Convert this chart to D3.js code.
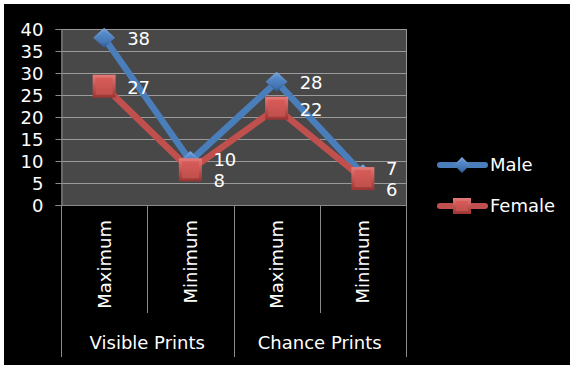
<!DOCTYPE html>
<html>
<head>
<meta charset="utf-8">
<script src="https://cdn.jsdelivr.net/npm/d3@7"></script>
<style>
html,body{margin:0;padding:0;background:#fff;}
svg{display:block;}
text{font-family:"DejaVu Sans",sans-serif;fill:#fff;}
</style>
</head>
<body>
<script>
const categories = ["Maximum", "Minimum", "Maximum", "Minimum"];
const groups = ["Visible Prints", "Chance Prints"];
const groupSize = 2;
const maleValues = [38, 10, 28, 7];
const femaleValues = [27, 8, 22, 6];
const seriesNames = ["Male", "Female"];
const yTickValues = [0, 5, 10, 15, 20, 25, 30, 35, 40];

const W = 573, H = 369;
const svg = d3.select("body").append("svg").attr("width", W).attr("height", H);
const defs = svg.append("defs");

function grad(id, c1, c2) {
  const g = defs.append("linearGradient").attr("id", id).attr("x1", 0).attr("y1", 0).attr("x2", 0).attr("y2", 1);
  g.append("stop").attr("offset", "0%").attr("stop-color", c1);
  g.append("stop").attr("offset", "100%").attr("stop-color", c2);
}
grad("blueOuter", "#7aa7e0", "#2d5a94");
grad("blueInner", "#5b8fd0", "#3f71b0");
grad("redOuter", "#e57a77", "#9a3331");
grad("redInner", "#d85b58", "#c0504d");

// chart background
svg.append("rect").attr("x", 4).attr("y", 4).attr("width", 566).attr("height", 361).attr("fill", "#000");

const plot = {left: 61, right: 406, top: 29, bottom: 205};
const x = d3.scaleBand().domain(d3.range(categories.length)).range([plot.left, plot.right]).padding(0);
const y = d3.scaleLinear().domain([0, 40]).range([plot.bottom, plot.top]);
const cx = i => x(i) + x.bandwidth() / 2;

// plot area
svg.append("rect").attr("x", plot.left).attr("y", plot.top)
  .attr("width", plot.right - plot.left).attr("height", plot.bottom - plot.top)
  .attr("fill", "#484848");

// gridlines
svg.append("g").selectAll("line").data(yTickValues.filter(v => v > 0)).join("line")
  .attr("x1", plot.left).attr("x2", plot.right)
  .attr("y1", d => y(d) + 0.5).attr("y2", d => y(d) + 0.5)
  .attr("stroke", "#9a9a9a").attr("stroke-width", 1);
svg.append("line").attr("x1", plot.right + 0.5).attr("x2", plot.right + 0.5)
  .attr("y1", plot.top).attr("y2", plot.bottom).attr("stroke", "#9a9a9a");

// y axis
const yAxis = d3.axisLeft(y).tickValues(yTickValues).tickSize(6).tickPadding(12);
const gy = svg.append("g").attr("transform", `translate(${plot.left + 0.5},0)`).call(yAxis);
gy.select(".domain").attr("stroke", "#8a8a8a");
gy.selectAll(".tick line").attr("stroke", "#8a8a8a");
gy.selectAll(".tick text").attr("fill", "#fff").style("font-family", '"DejaVu Sans",sans-serif')
  .style("font-size", "18px").attr("dy", "0.36em");

// x axis line
svg.append("line").attr("x1", plot.left).attr("x2", plot.right)
  .attr("y1", plot.bottom + 0.5).attr("y2", plot.bottom + 0.5).attr("stroke", "#8a8a8a");

// category separators
const sepIdx = d3.range(categories.length + 1);
svg.append("g").selectAll("line").data(sepIdx).join("line")
  .attr("x1", i => Math.round(i < categories.length ? x(i) : plot.right) + 0.5)
  .attr("x2", i => Math.round(i < categories.length ? x(i) : plot.right) + 0.5)
  .attr("y1", plot.bottom)
  .attr("y2", i => i % groupSize === 0 ? 357 : 313)
  .attr("stroke", "#8a8a8a");

// category labels (rotated)
svg.append("g").selectAll("text").data(categories).join("text")
  .attr("transform", (d, i) => `translate(${cx(i)},220) rotate(-90)`)
  .attr("text-anchor", "end").attr("dy", "0.36em")
  .style("font-size", "18px").text(d => d);

// group labels
svg.append("g").selectAll("text").data(groups).join("text")
  .attr("x", (d, gi) => (x(gi * groupSize) + (gi * groupSize + groupSize < categories.length ? x(gi * groupSize + groupSize) : plot.right)) / 2)
  .attr("y", 349).attr("text-anchor", "middle")
  .style("font-size", "18px").text(d => d);

// markers
function diamond(g, w, h) {
  g.append("path").attr("d", `M0,${-h/2}L${w/2},0L0,${h/2}L${-w/2},0Z`).attr("fill", "url(#blueOuter)");
  g.append("path").attr("d", `M0,${-h/2+3}L${w/2-3},0L0,${h/2-3}L${-w/2+3},0Z`).attr("fill", "url(#blueInner)");
}
function square(g, w, h) {
  g.append("rect").attr("x", -w/2).attr("y", -h/2).attr("width", w).attr("height", h).attr("fill", "url(#redOuter)");
  g.append("rect").attr("x", -w/2+3).attr("y", -h/2+3).attr("width", w-6).attr("height", h-6).attr("fill", "url(#redInner)");
}

const line = d3.line().x((d, i) => cx(i)).y(d => y(d));
const series = [
  {name: seriesNames[0], values: maleValues, color: "#4a7ebb", marker: diamond, mw: 22, mh: 20, lw: 16, lh: 16},
  {name: seriesNames[1], values: femaleValues, color: "#c0504d", marker: square, mw: 23, mh: 23, lw: 18, lh: 16}
];

series.forEach(s => {
  svg.append("path").datum(s.values).attr("d", line)
    .attr("fill", "none").attr("stroke", s.color).attr("stroke-width", 6.5)
    .attr("stroke-linejoin", "round");
  s.values.forEach((v, i) => {
    const g = svg.append("g").attr("transform", `translate(${cx(i)},${y(v)})`);
    s.marker(g, s.mw, s.mh);
  });
});

// data labels with simple overlap avoidance
const labelG = svg.append("g");
categories.forEach((c, i) => {
  const ym = y(maleValues[i]), yf = y(femaleValues[i]);
  let lm = ym, lf = yf;
  if (Math.abs(yf - ym) < 21) {
    lf = yf + 10;
    lm = Math.min(ym, lf - 21);
  }
  [[maleValues[i], lm], [femaleValues[i], lf]].forEach(([v, ly]) => {
    labelG.append("text").attr("x", cx(i) + 23).attr("y", ly).attr("dy", "0.42em")
      .style("font-size", "18px").text(v);
  });
});

// legend
const legendY = [165, 206];
series.forEach((s, k) => {
  const ly = legendY[k];
  svg.append("line").attr("x1", 440).attr("x2", 485).attr("y1", ly).attr("y2", ly)
    .attr("stroke", s.color).attr("stroke-width", 6).attr("stroke-linecap", "round");
  const g = svg.append("g").attr("transform", `translate(462,${ly})`);
  s.marker(g, s.lw, s.lh);
  svg.append("text").attr("x", 490).attr("y", ly).attr("dy", "0.36em")
    .style("font-size", "18px").text(s.name);
});
</script>
</body>
</html>
